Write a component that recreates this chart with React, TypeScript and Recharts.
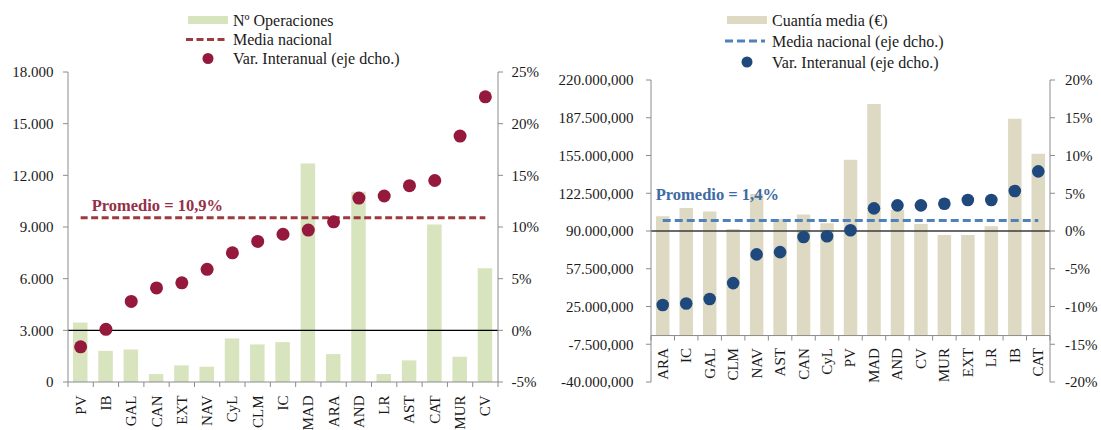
import React from "react";
import {
  ComposedChart,
  Bar,
  Line,
  XAxis,
  YAxis,
  ReferenceLine,
  Legend,
} from "recharts";

// Nº operaciones por CCAA (gráfico izquierdo)
const regionesOps = ["PV", "IB", "GAL", "CAN", "EXT", "NAV", "CyL", "CLM", "IC", "MAD", "ARA", "AND", "LR", "AST", "CAT", "MUR", "CV"];
const operaciones = [3450, 1810, 1890, 460, 965, 885, 2530, 2180, 2315, 12690, 1620, 11050, 460, 1255, 9145, 1465, 6600];
const varOperaciones = [-1.6, 0.1, 2.8, 4.1, 4.6, 5.9, 7.5, 8.6, 9.3, 9.7, 10.5, 12.8, 13.0, 14.0, 14.5, 18.8, 22.6];
const mediaOperaciones = 10.9;
const ticksOps = [0, 3000, 6000, 9000, 12000, 15000, 18000];
const ticksOpsPct = [-5, 0, 5, 10, 15, 20, 25];

// Cuantía media por CCAA (gráfico derecho)
const regionesCuantia = ["ARA", "IC", "GAL", "CLM", "NAV", "AST", "CAN", "CyL", "PV", "MAD", "AND", "CV", "MUR", "EXT", "LR", "IB", "CAT"];
const cuantia = [102800000, 109700000, 106700000, 91800000, 121800000, 100400000, 104100000, 96700000, 151300000, 199300000, 108200000, 96100000, 86600000, 86600000, 94100000, 186600000, 156500000];
const varCuantia = [-9.8, -9.6, -9.0, -6.9, -3.1, -2.8, -0.8, -0.7, 0.1, 3.0, 3.4, 3.4, 3.6, 4.1, 4.1, 5.3, 7.9];
const mediaCuantia = 1.4;
const ticksCuantia = [-40000000, -7500000, 25000000, 57500000, 90000000, 122500000, 155000000, 187500000, 220000000];
const ticksCuantiaPct = [-20, -15, -10, -5, 0, 5, 10, 15, 20];

const FONT = '"Liberation Serif", "Times New Roman", serif';
const AXIS = "#8c8c8c";
const TXT = "#1a1a1a";

const VERDE = "#d7e4bd";
const GRANATE = "#94193d";
const GRANATE_LINEA = "#9e3a3e";
const GRANATE_TXT = "#963049";
const BEIGE = "#ddd9c3";
const AZUL_OSC = "#1f497d";
const AZUL_LINEA = "#4f81bd";
const AZUL_TXT = "#3e6ba3";

const fmtMiles = (n: number) => String(n).replace(/\B(?=(\d{3})+(?!\d))/g, ".");
const pad3 = (n: number) => String(n).padStart(3, "0");
const fmtEuros = (n: number) => {
  const s = n < 0 ? "-" : "";
  const a = Math.abs(n);
  const m = Math.floor(a / 1000000);
  const r = a % 1000000;
  return `${s}${m}.${pad3(Math.floor(r / 1000))},${pad3(r % 1000)}`;
};
const fmtPct = (n: number) => `${n}%`;

const opsData = regionesOps.map((region, i) => ({
  region,
  ops: operaciones[i],
  varia: varOperaciones[i],
}));
const cuantiaData = regionesCuantia.map((region, i) => ({
  region,
  cuantia: cuantia[i],
  varia: varCuantia[i],
}));

// layout
const W1 = 550;
const W2 = 551;
const H = 430;
const L_LEFT = 68;
const L_RIGHT = 498;
const L_TOP = 72;
const L_BOTTOM = 382;
const R_LEFT = 101; // inside the right chart
const R_RIGHT = 500;
const R_TOP = 80;
const R_BOTTOM = 382;

const tickStyle = { fontSize: 15, fill: TXT, fontFamily: FONT };

const makeCategoryTick =
  (step: number, shift: number, gap: number, last: string) =>
  (props: any) => {
    const { x, y, payload } = props;
    const ay = y - shift;
    const ly = ay + gap;
    return (
      <g>
        <line x1={x - step / 2} x2={x - step / 2} y1={ay} y2={ay + 5} stroke={AXIS} />
        {payload.value === last && (
          <line x1={x + step / 2} x2={x + step / 2} y1={ay} y2={ay + 5} stroke={AXIS} />
        )}
        <text
          x={x}
          y={ly}
          transform={`rotate(-90, ${x}, ${ly})`}
          textAnchor="end"
          dominantBaseline="central"
          fontSize={15}
          fill={TXT}
          fontFamily={FONT}
        >
          {payload.value}
        </text>
      </g>
    );
  };

type LegendRow = { kind: "bar" | "dash" | "dot"; color: string; label: string };

const makeLegend =
  (width: number, x0: number, rows: LegendRow[], ys: number[], dash: string) =>
  () => (
    <svg width={width} height={72} style={{ display: "block" }}>
      {rows.map((r, i) => {
        const y = ys[i];
        return (
          <g key={r.label}>
            {r.kind === "bar" && <rect x={x0} y={y - 4} width={40} height={8} fill={r.color} />}
            {r.kind === "dash" && (
              <line x1={x0 - 2} x2={x0 + 38} y1={y} y2={y} stroke={r.color} strokeWidth={3} strokeDasharray={dash} />
            )}
            {r.kind === "dot" && <circle cx={x0 + 20} cy={y} r={5.5} fill={r.color} />}
            <text x={x0 + 45} y={y} dominantBaseline="central" fontSize={16} fill={TXT} fontFamily={FONT}>
              {r.label}
            </text>
          </g>
        );
      })}
    </svg>
  );

const legendOps = makeLegend(
  W1,
  188,
  [
    { kind: "bar", color: VERDE, label: "Nº Operaciones" },
    { kind: "dash", color: GRANATE_LINEA, label: "Media nacional" },
    { kind: "dot", color: GRANATE, label: "Var. Interanual (eje dcho.)" },
  ],
  [20, 39.5, 58.5],
  "7 3.5"
);

const legendCuantia = makeLegend(
  W2,
  177,
  [
    { kind: "bar", color: BEIGE, label: "Cuantía media (€)" },
    { kind: "dash", color: AZUL_LINEA, label: "Media nacional (eje dcho.)" },
    { kind: "dot", color: AZUL_OSC, label: "Var. Interanual (eje dcho.)" },
  ],
  [20, 41, 62],
  "8 4"
);

const OperacionesChart = () => {
  const step = (L_RIGHT - L_LEFT) / regionesOps.length;
  return (
    <ComposedChart
      width={W1}
      height={H}
      data={opsData}
      margin={{ top: L_TOP, right: 0, bottom: 0, left: 0 }}
      style={{ fontFamily: FONT }}
    >
      <XAxis
        dataKey="region"
        height={H - L_BOTTOM}
        interval={0}
        stroke={AXIS}
        tickLine={false}
        tickSize={0}
        tickMargin={0}
        tick={makeCategoryTick(step, 0, 13.5, regionesOps[regionesOps.length - 1])}
      />
      <YAxis
        yAxisId="left"
        width={L_LEFT}
        domain={[0, 18000]}
        ticks={ticksOps}
        interval={0}
        tickFormatter={fmtMiles}
        stroke={AXIS}
        tickSize={5}
        tickMargin={9.5}
        tick={tickStyle}
      />
      <YAxis
        yAxisId="right"
        orientation="right"
        width={W1 - L_RIGHT}
        domain={[-5, 25]}
        ticks={ticksOpsPct}
        interval={0}
        tickFormatter={fmtPct}
        stroke={AXIS}
        tickSize={5}
        tickMargin={8.5}
        tick={tickStyle}
      />
      <Legend
        layout="vertical"
        align="center"
        verticalAlign="middle"
        wrapperStyle={{ position: "absolute", left: 0, top: 0, width: W1, height: 72 }}
        content={legendOps}
      />
      <Bar yAxisId="left" dataKey="ops" fill={VERDE} barSize={14.5} isAnimationActive={false} />
      <ReferenceLine yAxisId="right" y={0} stroke="#000" strokeWidth={1.3} />
      <ReferenceLine
        yAxisId="right"
        segment={[
          { x: regionesOps[0], y: mediaOperaciones },
          { x: regionesOps[regionesOps.length - 1], y: mediaOperaciones },
        ]}
        stroke={GRANATE_LINEA}
        strokeWidth={3}
        strokeDasharray="7 3.5"
        label={(p: any) => (
          <text
            x={p.viewBox.x + 11}
            y={p.viewBox.y - 6.5}
            fontSize={16.5}
            fontWeight="bold"
            fill={GRANATE_TXT}
            fontFamily={FONT}
          >
            Promedio = 10,9%
          </text>
        )}
      />
      <Line
        yAxisId="right"
        dataKey="varia"
        stroke="none"
        dot={{ r: 6.5, fill: GRANATE, stroke: "none" }}
        activeDot={false}
        legendType="none"
        isAnimationActive={false}
      />
    </ComposedChart>
  );
};

const CuantiaChart = () => {
  const step = (R_RIGHT - R_LEFT) / regionesCuantia.length;
  const plotH = R_BOTTOM - R_TOP;
  const shift = (plotH * (0 - ticksCuantia[0])) / (ticksCuantia[ticksCuantia.length - 1] - ticksCuantia[0]);
  return (
    <ComposedChart
      width={W2}
      height={H}
      data={cuantiaData}
      margin={{ top: R_TOP, right: 0, bottom: 0, left: 0 }}
      style={{ fontFamily: FONT }}
    >
      <XAxis
        dataKey="region"
        height={H - R_BOTTOM}
        interval={0}
        axisLine={false}
        tickLine={false}
        tickSize={0}
        tickMargin={0}
        tick={makeCategoryTick(step, shift, 12.5, regionesCuantia[regionesCuantia.length - 1])}
      />
      <YAxis
        yAxisId="left"
        width={R_LEFT}
        domain={[-40000000, 220000000]}
        ticks={ticksCuantia}
        interval={0}
        tickFormatter={fmtEuros}
        stroke={AXIS}
        tickSize={5}
        tickMargin={12.5}
        tick={tickStyle}
      />
      <YAxis
        yAxisId="right"
        orientation="right"
        width={W2 - R_RIGHT}
        domain={[-20, 20]}
        ticks={ticksCuantiaPct}
        interval={0}
        tickFormatter={fmtPct}
        stroke={AXIS}
        tickSize={5}
        tickMargin={10}
        tick={tickStyle}
      />
      <Legend
        layout="vertical"
        align="center"
        verticalAlign="middle"
        wrapperStyle={{ position: "absolute", left: 0, top: 0, width: W2, height: 72 }}
        content={legendCuantia}
      />
      <Bar yAxisId="left" dataKey="cuantia" fill={BEIGE} barSize={13.5} isAnimationActive={false} />
      <ReferenceLine yAxisId="left" y={0} stroke={AXIS} strokeWidth={1} />
      <ReferenceLine yAxisId="right" y={0} stroke="#3a3a3a" strokeWidth={1.5} />
      <ReferenceLine
        yAxisId="right"
        segment={[
          { x: regionesCuantia[0], y: mediaCuantia },
          { x: regionesCuantia[regionesCuantia.length - 1], y: mediaCuantia },
        ]}
        stroke={AZUL_LINEA}
        strokeWidth={3}
        strokeDasharray="8 4"
        label={(p: any) => (
          <text
            x={p.viewBox.x - 7}
            y={p.viewBox.y - 20.5}
            fontSize={16.5}
            fontWeight="bold"
            fill={AZUL_TXT}
            fontFamily={FONT}
          >
            Promedio = 1,4%
          </text>
        )}
      />
      <Line
        yAxisId="right"
        dataKey="varia"
        stroke="none"
        dot={{ r: 6.3, fill: AZUL_OSC, stroke: "none" }}
        activeDot={false}
        legendType="none"
        isAnimationActive={false}
      />
    </ComposedChart>
  );
};

export default function App() {
  return (
    <div style={{ position: "absolute", left: 0, top: 0, width: 1101, height: H, background: "#fff" }}>
      <div style={{ position: "absolute", left: 0, top: 0 }}>
        <OperacionesChart />
      </div>
      <div style={{ position: "absolute", left: W1, top: 0 }}>
        <CuantiaChart />
      </div>
    </div>
  );
}
